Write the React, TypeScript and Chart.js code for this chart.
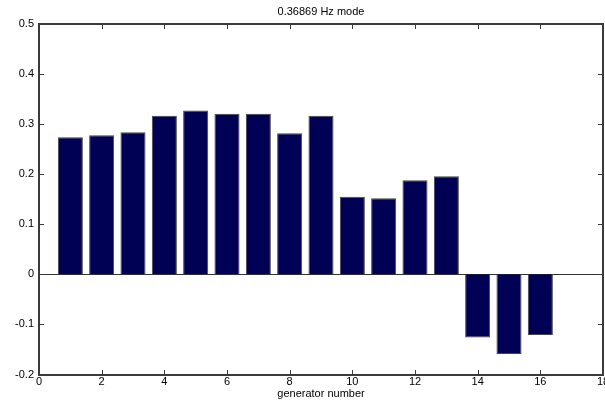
import React, { useEffect, useRef } from "react";
import { Chart, registerables } from "chart.js";

Chart.register(...registerables);

const generators = [1, 2, 3, 4, 5, 6, 7, 8, 9, 10, 11, 12, 13, 14, 15, 16];
const modeValues = [
  0.274, 0.278, 0.284, 0.317, 0.327, 0.321, 0.321, 0.282, 0.317,
  0.155, 0.152, 0.188, 0.196, -0.126, -0.159, -0.121,
];
const titleText = "0.36869 Hz mode";
const xLabel = "generator number";
const xMin = 0, xMax = 18, xStep = 2;
const yMin = -0.2, yMax = 0.5, yStep = 0.1;

const FONT = { family: "'Liberation Sans', Arial, sans-serif", size: 11 };
const INK = "#3a3a3a";

const inwardTicks = {
  id: "inwardTicks",
  afterDraw(chart: any) {
    const { ctx, chartArea } = chart;
    const x = chart.scales.x;
    const y = chart.scales.y;
    const len = 4;
    const w = 2;
    ctx.save();
    ctx.fillStyle = INK;
    const l = Math.round(chartArea.left) - 1;
    const r = Math.round(chartArea.right) + 1;
    const t = Math.round(chartArea.top) - 1;
    const b = Math.round(chartArea.bottom) + 1;
    for (const tk of x.ticks) {
      const px = Math.round(x.getPixelForValue(tk.value));
      ctx.fillRect(px, b - w - len, 1, len);
      ctx.fillRect(px, t + w, 1, len);
    }
    for (const tk of y.ticks) {
      const py = Math.round(y.getPixelForValue(tk.value));
      ctx.fillRect(l + w, py, len, 1);
      ctx.fillRect(r - w - len, py, len, 1);
    }
    ctx.fillRect(l, t, r - l, w);
    ctx.fillRect(l, b - w, r - l, w);
    ctx.fillRect(l, t, w, b - t);
    ctx.fillRect(r - w, t, w, b - t);
    ctx.restore();
  },
};

export default function App() {
  const ref = useRef<HTMLCanvasElement | null>(null);
  useEffect(() => {
    if (!ref.current) return;
    const chart = new Chart(ref.current, {
      type: "bar",
      data: {
        datasets: [
          {
            data: generators.map((g, i) => ({ x: g, y: modeValues[i] })),
            backgroundColor: "#000055",
            borderColor: "#444",
            borderWidth: 1,
            categoryPercentage: 1,
            barPercentage: 0.8,
          } as any,
        ],
      },
      options: {
        animation: false,
        responsive: false,
        maintainAspectRatio: false,
        layout: { padding: 0 },
        plugins: { legend: { display: false }, tooltip: { enabled: false }, title: { display: false } },
        scales: {
          x: {
            type: "linear",
            position: "bottom",
            offset: false,
            min: xMin,
            max: xMax,
            ticks: { stepSize: xStep, font: FONT, color: "#000", padding: 1, maxRotation: 0 },
            grid: { display: false, drawTicks: false, offset: false },
            border: { display: false },
            title: { display: true, text: xLabel, font: FONT, color: "#000", padding: { top: 0, bottom: 0 } },
            afterFit: (s: any) => { s.height = 26.5; s.paddingLeft = 0; s.paddingRight = 0; },
          },
          xTop: {
            type: "linear",
            position: "top",
            offset: false,
            min: xMin,
            max: xMax,
            ticks: { display: false },
            grid: { display: false, drawTicks: false, offset: false },
            border: { display: false },
            title: { display: true, text: titleText, font: FONT, color: "#000", padding: { top: 5, bottom: 0 } },
            afterFit: (s: any) => { s.height = 24; s.paddingLeft = 0; s.paddingRight = 0; },
          },
          y: {
            type: "linear",
            position: "left",
            min: yMin,
            max: yMax,
            ticks: {
              stepSize: yStep,
              font: FONT,
              color: "#000",
              padding: 5,
              callback: (v: any) => String(Number(Number(v).toFixed(1))),
            },
            grid: {
              drawTicks: false,
              color: (c: any) => (c.tick && Math.abs(c.tick.value) < 1e-9 ? "#333" : "rgba(0,0,0,0)"),
              lineWidth: 1,
            },
            border: { display: false },
            afterFit: (s: any) => { s.width = 39; },
          },
          yR: {
            type: "linear",
            position: "right",
            min: yMin,
            max: yMax,
            ticks: { display: false },
            grid: { display: false, drawTicks: false },
            border: { display: false },
            afterFit: (s: any) => { s.width = 2; },
          },
        },
      } as any,
      plugins: [inwardTicks],
    });
    return () => chart.destroy();
  }, []);
  return (
    <div style={{ position: "fixed", left: 0, top: 0, width: 605, height: 401, background: "#fff" }}>
      <canvas ref={ref} width={605} height={401} style={{ width: 605, height: 401, display: "block" }} />
    </div>
  );
}
